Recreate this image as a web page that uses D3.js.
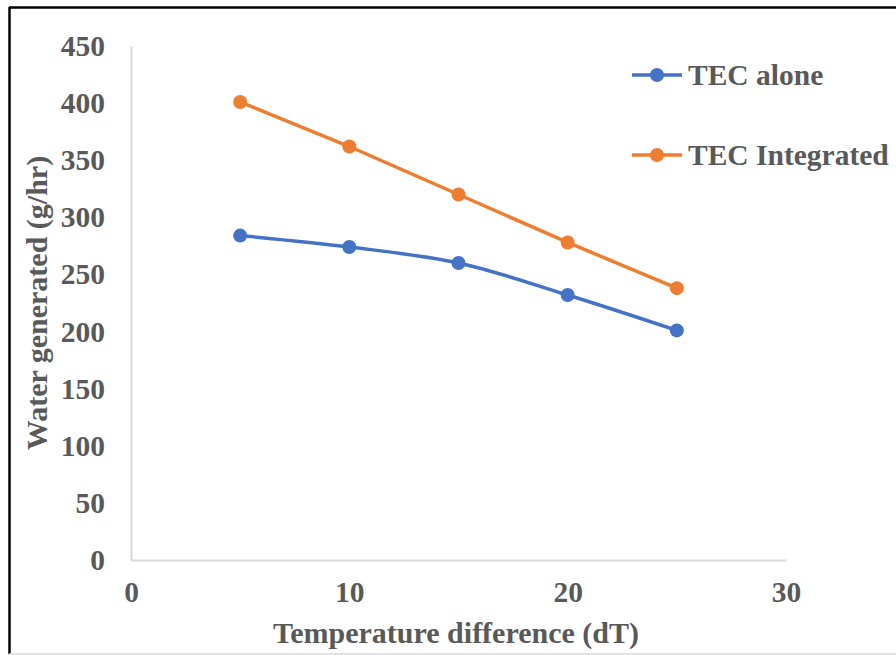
<!DOCTYPE html>
<html>
<head>
    <script src="https://d3js.org/d3.v7.min.js"></script>
    <style>
        body { margin: 0; background: #fff; }
        svg text { font-family: "Liberation Serif", "Times New Roman", serif; font-weight: bold; fill: #595959; }
    </style>
</head>
<body>
    <div id="chart"></div>
    <script>
        const width = 896, height = 655;

        // data
        const dT = [5, 10, 15, 20, 25];
        const tecAlone = [284, 274, 260, 232, 201];
        const tecIntegrated = [401, 362, 320, 278, 238];
        const xTicks = [0, 10, 20, 30];
        const yTicks = [0, 50, 100, 150, 200, 250, 300, 350, 400, 450];
        const seriesNames = ['TEC alone', 'TEC Integrated'];
        const seriesColors = ['#4472c4', '#ed7d31'];

        const margin = { left: 131, right: 110, top: 46, bottom: 95 };

        const svg = d3.select('#chart').append('svg')
            .attr('width', width)
            .attr('height', height);

        // frame
        svg.append('line').attr('x1', 9).attr('x2', width).attr('y1', 7.5).attr('y2', 7.5)
            .attr('stroke', '#000').attr('stroke-width', 2.5);
        svg.append('line').attr('x1', 9.5).attr('x2', 9.5).attr('y1', 7).attr('y2', 654)
            .attr('stroke', '#000').attr('stroke-width', 2.5);
        svg.append('line').attr('x1', 9).attr('x2', width).attr('y1', 654).attr('y2', 654)
            .attr('stroke', '#d9d9d9').attr('stroke-width', 1.5);

        const x = d3.scaleLinear().domain([0, 30]).range([margin.left, width - margin.right]);
        const y = d3.scaleLinear().domain([0, 450]).range([height - margin.bottom, margin.top]);

        // axes
        const xAxis = svg.append('g')
            .attr('transform', `translate(0,${y(0)})`)
            .call(d3.axisBottom(x).tickValues(xTicks).tickSize(0).tickPadding(21));
        const yAxis = svg.append('g')
            .attr('transform', `translate(${x(0)},0)`)
            .call(d3.axisLeft(y).tickValues(yTicks).tickSize(0).tickPadding(26));

        [xAxis, yAxis].forEach(a => {
            a.select('.domain').attr('stroke', '#d9d9d9').attr('stroke-width', 2);
            a.selectAll('text').style('font-size', '29.5px').attr('fill', '#595959');
        });
        xAxis.selectAll('text').attr('dy', '0.71em');

        // titles
        svg.append('text')
            .attr('x', 456)
            .attr('y', 643)
            .attr('text-anchor', 'middle')
            .style('font-size', '30px')
            .text('Temperature difference (dT)');

        svg.append('text')
            .attr('transform', `translate(47,${(y(0) + y(450)) / 2}) rotate(-90)`)
            .attr('text-anchor', 'middle')
            .style('font-size', '30px')
            .text('Water generated (g/hr)');

        // series
        const series = [tecAlone, tecIntegrated];
        const curves = [d3.curveCatmullRom, d3.curveLinear];

        series.forEach((vals, i) => {
            const pts = dT.map((d, j) => [d, vals[j]]);
            svg.append('path')
                .datum(pts)
                .attr('fill', 'none')
                .attr('stroke', seriesColors[i])
                .attr('stroke-width', 3.5)
                .attr('d', d3.line().x(d => x(d[0])).y(d => y(d[1])).curve(curves[i]));
            svg.append('g').selectAll('circle')
                .data(pts)
                .join('circle')
                .attr('cx', d => x(d[0]))
                .attr('cy', d => y(d[1]))
                .attr('r', 7)
                .attr('fill', seriesColors[i]);
        });

        // legend
        const legend = svg.append('g');
        seriesNames.forEach((name, i) => {
            const ly = 75 + i * 80;
            legend.append('line')
                .attr('x1', 632).attr('x2', 682).attr('y1', ly).attr('y2', ly)
                .attr('stroke', seriesColors[i]).attr('stroke-width', 3.5);
            legend.append('circle')
                .attr('cx', 657).attr('cy', ly).attr('r', 7)
                .attr('fill', seriesColors[i]);
            legend.append('text')
                .attr('x', 688).attr('y', ly + 10)
                .style('font-size', '29.5px')
                .text(name);
        });
    </script>
</body>
</html>
